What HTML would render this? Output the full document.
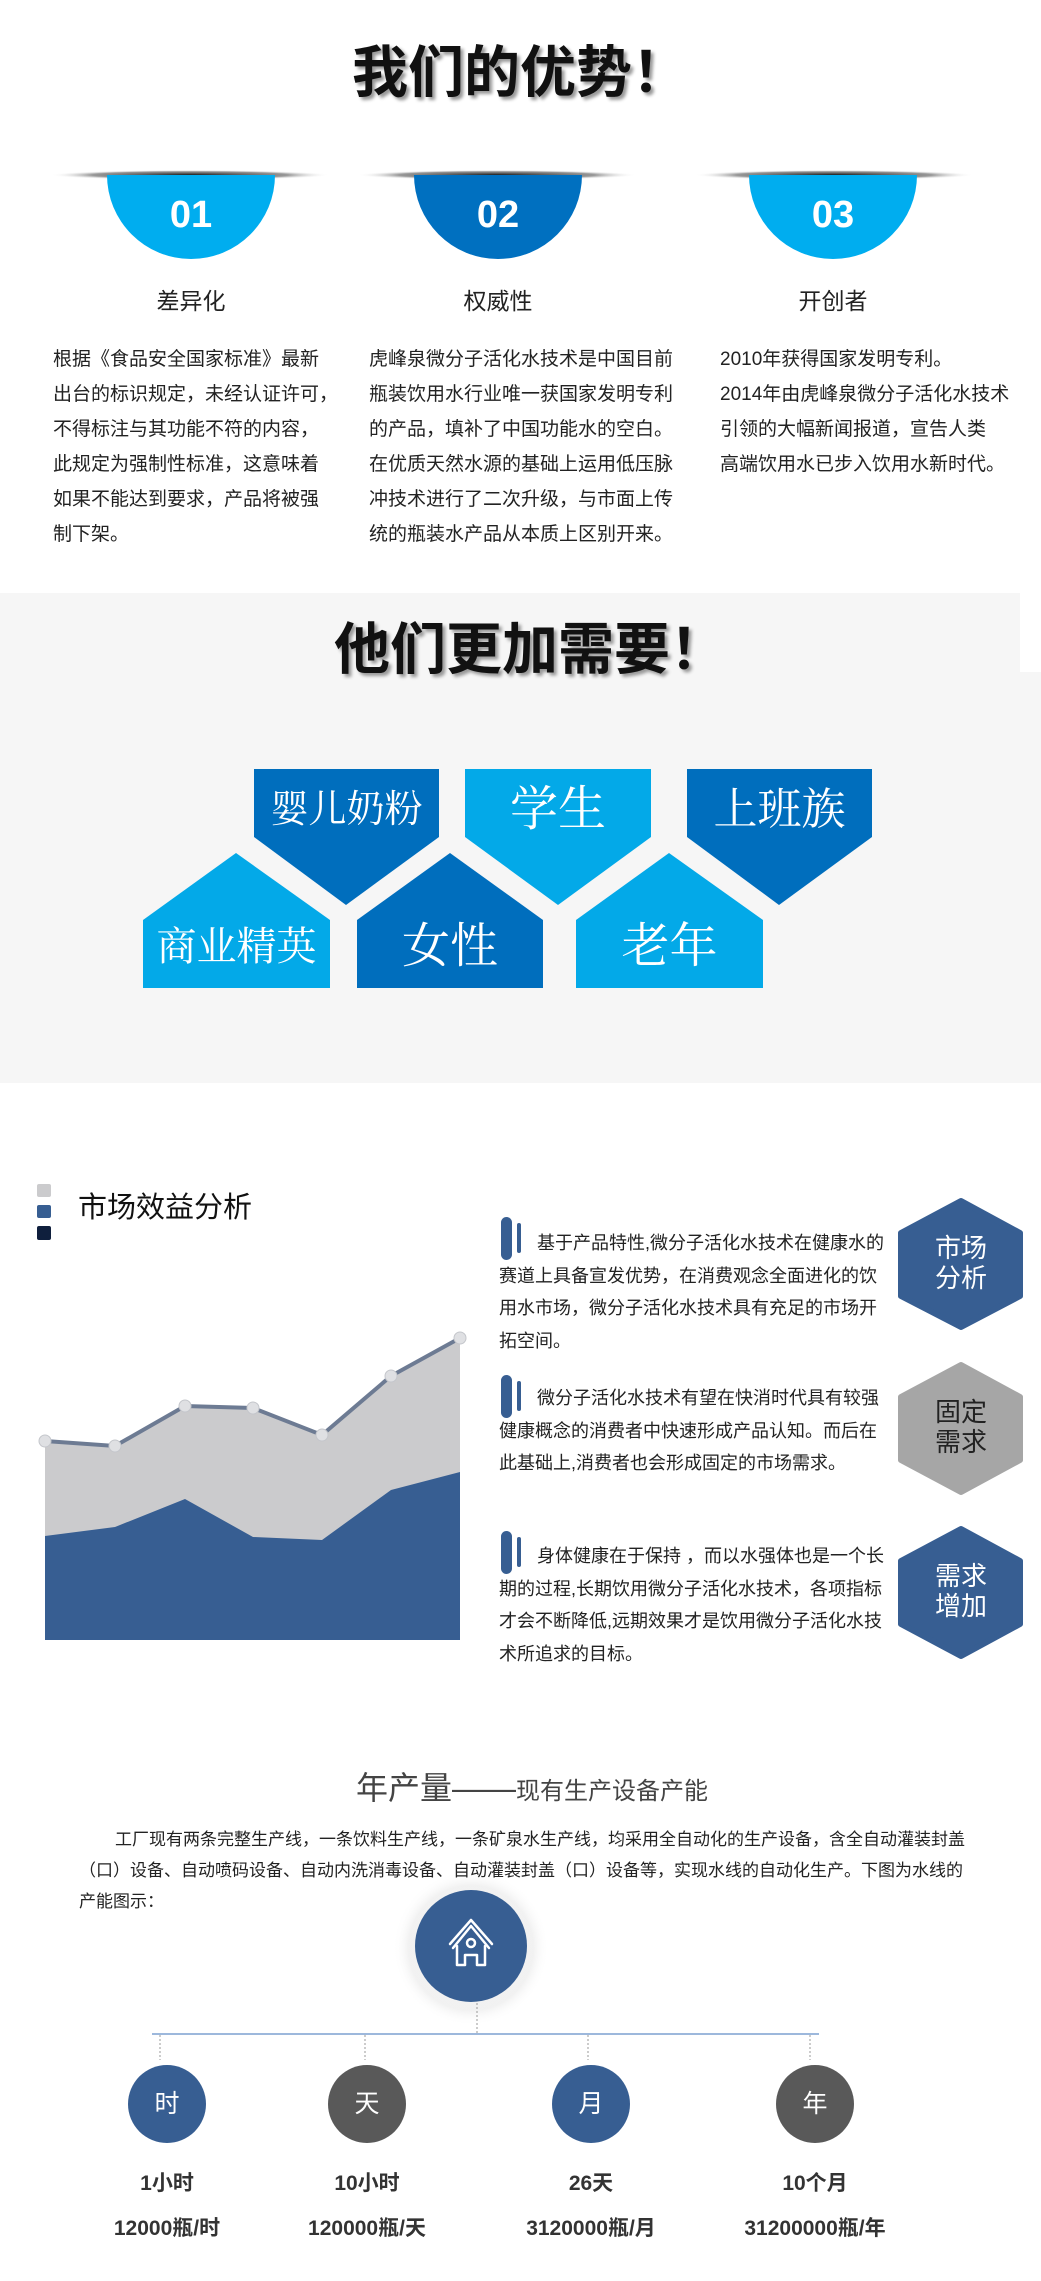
<!DOCTYPE html>
<html><head><meta charset="utf-8">
<style>
*{margin:0;padding:0;box-sizing:border-box}
body{width:1041px;height:2281px;position:relative;background:#fff;overflow:hidden;font-family:"Liberation Sans","Noto Sans CJK SC",sans-serif}
.a{position:absolute;white-space:nowrap}
.c{text-align:center}
.body1{font-size:19px;line-height:35px;color:#222}
.mk{font-size:18px;line-height:32.5px;color:#222}
</style></head><body>
<svg class="a" style="left:0;top:0" width="1041" height="2281" viewBox="0 0 1041 2281">
<defs>
<radialGradient id="sh" cx="0.5" cy="0.5" r="0.5">
<stop offset="0" stop-color="#000" stop-opacity="0.9"/>
<stop offset="0.7" stop-color="#333" stop-opacity="0.5"/>
<stop offset="1" stop-color="#fff" stop-opacity="0"/>
</radialGradient>
<radialGradient id="gl" cx="0.5" cy="0.5" r="0.5">
<stop offset="0.8" stop-color="#eee" stop-opacity="0.8"/>
<stop offset="1" stop-color="#fff" stop-opacity="0"/>
</radialGradient>
</defs>
<!-- section1 shadow bars -->
<ellipse cx="190" cy="175" rx="140" ry="5" fill="url(#sh)"/>
<ellipse cx="497" cy="175" rx="140" ry="5" fill="url(#sh)"/>
<ellipse cx="834" cy="175" rx="140" ry="5" fill="url(#sh)"/>
<path d="M107 175 H275 A84 84 0 0 1 107 175Z" fill="#00adef"/>
<path d="M414 175 H582 A84 84 0 0 1 414 175Z" fill="#0070c0"/>
<path d="M749 175 H917 A84 84 0 0 1 749 175Z" fill="#00adef"/>
<!-- section2 bg -->
<rect x="0" y="593" width="1020" height="490" fill="#f6f6f6"/>
<rect x="0" y="672" width="1041" height="411" fill="#f6f6f6"/>
<polygon points="254,769 439,769 439,837 346,905 254,837" fill="#006ebd"/>
<polygon points="465,769 651,769 651,837 558,905 465,837" fill="#03a9e8"/>
<polygon points="687,769 872,769 872,837 779,905 687,837" fill="#006ebd"/>
<polygon points="143,988 330,988 330,920 236,853 143,920" fill="#03a9e8"/>
<polygon points="357,988 543,988 543,920 450,853 357,920" fill="#006ebd"/>
<polygon points="576,988 763,988 763,920 669,853 576,920" fill="#03a9e8"/>
<!-- section3 legend -->
<rect x="37" y="1184" width="14" height="13" rx="2" fill="#cbcbcd"/>
<rect x="37" y="1205" width="14" height="13" rx="2" fill="#375e92"/>
<rect x="37" y="1226" width="14" height="14" rx="2" fill="#0f1f3d"/>
<!-- chart -->
<polygon points="45,1441 115,1446 185,1406 253,1408 322,1435 391,1376 460,1338 460,1640 45,1640" fill="#cbcbcd"/>
<polygon points="45,1536 115,1527 185,1499 253,1537 322,1540 391,1490 460,1472 460,1640 45,1640" fill="#375e92"/>
<polyline points="45,1441 115,1446 185,1406 253,1408 322,1435 391,1376 460,1338" fill="none" stroke="#6d7b93" stroke-width="4"/>
<g fill="#dfe0e3" stroke="#c4c6cb" stroke-width="1">
<circle cx="45" cy="1441" r="6"/><circle cx="115" cy="1446" r="6"/><circle cx="185" cy="1406" r="6"/><circle cx="253" cy="1408" r="6"/><circle cx="322" cy="1435" r="6"/><circle cx="391" cy="1376" r="6"/><circle cx="460" cy="1338" r="6"/>
</g>
<!-- markers -->
<g fill="#375e92">
<rect x="501" y="1217" width="11" height="43" rx="5.5"/><rect x="517" y="1223" width="4" height="30" rx="2"/>
<rect x="501" y="1375" width="11" height="43" rx="5.5"/><rect x="517" y="1381" width="4" height="30" rx="2"/>
<rect x="501" y="1531" width="11" height="43" rx="5.5"/><rect x="517" y="1537" width="4" height="30" rx="2"/>
</g>
<!-- hexagons -->
<polygon points="961,1201 1020,1233 1020,1296 961,1327 901,1296 901,1233" fill="#375e92" stroke="#375e92" stroke-width="6" stroke-linejoin="round"/>
<polygon points="961,1365 1020,1397 1020,1460 961,1492 901,1460 901,1397" fill="#a6a6a6" stroke="#a6a6a6" stroke-width="6" stroke-linejoin="round"/>
<polygon points="961,1529 1020,1561 1020,1624 961,1656 901,1624 901,1561" fill="#375e92" stroke="#375e92" stroke-width="6" stroke-linejoin="round"/>
<!-- section4 -->
<circle cx="471" cy="1948" r="78" fill="url(#gl)"/>
<circle cx="471" cy="1946" r="56" fill="#375e92"/>
<g fill="none" stroke="#fff" stroke-width="2.5" stroke-linejoin="round" stroke-linecap="round">
<path d="M453 1948 L471 1926 L489 1948"/>
<path d="M450 1944 L471 1920 L492 1944"/>
<path d="M457 1946 V1965 H465 V1955 H477 V1965 H485 V1946"/>
<circle cx="471" cy="1943" r="4"/>
</g>
<line x1="477" y1="2003" x2="477" y2="2034" stroke="#999" stroke-width="1" stroke-dasharray="2,2"/>
<line x1="152" y1="2034" x2="819" y2="2034" stroke="#9db8dc" stroke-width="2"/>
<g stroke="#999" stroke-width="1" stroke-dasharray="2,2">
<line x1="160" y1="2035" x2="160" y2="2060"/><line x1="365" y1="2035" x2="365" y2="2060"/><line x1="588" y1="2035" x2="588" y2="2060"/><line x1="810" y1="2035" x2="810" y2="2060"/>
</g>
<ellipse cx="167" cy="2104" rx="39" ry="39" fill="#375e92"/>
<ellipse cx="367" cy="2104" rx="39" ry="39" fill="#595959"/>
<ellipse cx="591" cy="2104" rx="39" ry="39" fill="#375e92"/>
<ellipse cx="815" cy="2104" rx="39" ry="39" fill="#595959"/>
</svg>

<!-- Section 1 -->
<div class="a c" style="left:320px;top:40px;width:400px;font-size:56px;line-height:66px;font-weight:bold;color:#111;text-shadow:3px 3px 3px #999">我们的优势！</div>
<div class="a c" style="left:107px;top:194px;width:168px;font-size:38px;font-weight:bold;color:#fff">01</div>
<div class="a c" style="left:414px;top:194px;width:168px;font-size:38px;font-weight:bold;color:#fff">02</div>
<div class="a c" style="left:749px;top:194px;width:168px;font-size:38px;font-weight:bold;color:#fff">03</div>
<div class="a c" style="left:107px;top:282px;width:168px;font-size:23px;color:#222">差异化</div>
<div class="a c" style="left:414px;top:282px;width:168px;font-size:23px;color:#222">权威性</div>
<div class="a c" style="left:749px;top:282px;width:168px;font-size:23px;color:#222">开创者</div>
<div class="a body1" style="left:53px;top:342px">根据《食品安全国家标准》最新<br>出台的标识规定，未经认证许可，<br>不得标注与其功能不符的内容，<br>此规定为强制性标准，这意味着<br>如果不能达到要求，产品将被强<br>制下架。</div>
<div class="a body1" style="left:369px;top:342px">虎峰泉微分子活化水技术是中国目前<br>瓶装饮用水行业唯一获国家发明专利<br>的产品，填补了中国功能水的空白。<br>在优质天然水源的基础上运用低压脉<br>冲技术进行了二次升级，与市面上传<br>统的瓶装水产品从本质上区别开来。</div>
<div class="a body1" style="left:720px;top:342px">2010年获得国家发明专利。<br>2014年由虎峰泉微分子活化水技术<br>引领的大幅新闻报道，宣告人类<br>高端饮用水已步入饮用水新时代。</div>

<!-- Section 2 -->
<div class="a c" style="left:300px;top:617px;width:460px;font-size:56px;line-height:66px;font-weight:bold;color:#111;text-shadow:3px 3px 3px #999">他们更加需要！</div>
<div class="a c" style="left:254px;top:785px;width:185px;font-size:38px;line-height:50px;color:#fff;font-family:'Liberation Serif','Noto Serif CJK SC',serif">婴儿奶粉</div>
<div class="a c" style="left:465px;top:780px;width:186px;font-size:48px;line-height:60px;color:#fff;font-family:'Liberation Serif','Noto Serif CJK SC',serif">学生</div>
<div class="a c" style="left:687px;top:780px;width:185px;font-size:44px;line-height:60px;color:#fff;font-family:'Liberation Serif','Noto Serif CJK SC',serif">上班族</div>
<div class="a c" style="left:143px;top:922px;width:187px;font-size:40px;line-height:50px;color:#fff;font-family:'Liberation Serif','Noto Serif CJK SC',serif">商业精英</div>
<div class="a c" style="left:357px;top:917px;width:186px;font-size:48px;line-height:60px;color:#fff;font-family:'Liberation Serif','Noto Serif CJK SC',serif">女性</div>
<div class="a c" style="left:576px;top:917px;width:187px;font-size:48px;line-height:60px;color:#fff;font-family:'Liberation Serif','Noto Serif CJK SC',serif">老年</div>

<!-- Section 3 -->
<div class="a" style="left:78px;top:1190px;font-size:29px;line-height:36px;color:#111">市场效益分析</div>
<div class="a mk" style="left:499px;top:1227px"><span style="padding-left:38px"></span>基于产品特性,微分子活化水技术在健康水的<br>赛道上具备宣发优势，在消费观念全面进化的饮<br>用水市场，微分子活化水技术具有充足的市场开<br>拓空间。</div>
<div class="a mk" style="left:499px;top:1382px"><span style="padding-left:38px"></span>微分子活化水技术有望在快消时代具有较强<br>健康概念的消费者中快速形成产品认知。而后在<br>此基础上,消费者也会形成固定的市场需求。</div>
<div class="a mk" style="left:499px;top:1540px"><span style="padding-left:38px"></span>身体健康在于保持 ，而以水强体也是一个长<br>期的过程,长期饮用微分子活化水技术，各项指标<br>才会不断降低,远期效果才是饮用微分子活化水技<br>术所追求的目标。</div>
<div class="a c" style="left:901px;top:1233px;width:120px;font-size:26px;line-height:30px;color:#fff">市场<br>分析</div>
<div class="a c" style="left:901px;top:1397px;width:120px;font-size:26px;line-height:30px;color:#222">固定<br>需求</div>
<div class="a c" style="left:901px;top:1561px;width:120px;font-size:26px;line-height:30px;color:#fff">需求<br>增加</div>

<!-- Section 4 -->
<div class="a" style="left:356px;top:1768px;color:#444;font-size:24px;line-height:40px"><span style="font-size:32px">年产量——</span>现有生产设备产能</div>
<div class="a" style="left:79px;top:1824px;width:900px;white-space:normal;font-size:17px;line-height:31px;color:#222;text-indent:36px">工厂现有两条完整生产线，一条饮料生产线，一条矿泉水生产线，均采用全自动化的生产设备，含全自动灌装封盖（口）设备、自动喷码设备、自动内洗消毒设备、自动灌装封盖（口）设备等，实现水线的自动化生产。下图为水线的产能图示：</div>
<div class="a c" style="left:128px;top:2087px;width:78px;font-size:25px;line-height:34px;color:#fff">时</div>
<div class="a c" style="left:328px;top:2087px;width:78px;font-size:25px;line-height:34px;color:#fff">天</div>
<div class="a c" style="left:552px;top:2087px;width:78px;font-size:25px;line-height:34px;color:#fff">月</div>
<div class="a c" style="left:776px;top:2087px;width:78px;font-size:25px;line-height:34px;color:#fff">年</div>
<div class="a c" style="left:87px;top:2169px;width:160px;font-size:21px;font-weight:bold;line-height:30px;color:#333">1小时</div>
<div class="a c" style="left:287px;top:2169px;width:160px;font-size:21px;font-weight:bold;line-height:30px;color:#333">10小时</div>
<div class="a c" style="left:511px;top:2169px;width:160px;font-size:21px;font-weight:bold;line-height:30px;color:#333">26天</div>
<div class="a c" style="left:735px;top:2169px;width:160px;font-size:21px;font-weight:bold;line-height:30px;color:#333">10个月</div>
<div class="a c" style="left:67px;top:2214px;width:200px;font-size:21px;font-weight:bold;line-height:30px;color:#333">12000瓶/时</div>
<div class="a c" style="left:267px;top:2214px;width:200px;font-size:21px;font-weight:bold;line-height:30px;color:#333">120000瓶/天</div>
<div class="a c" style="left:491px;top:2214px;width:200px;font-size:21px;font-weight:bold;line-height:30px;color:#333">3120000瓶/月</div>
<div class="a c" style="left:715px;top:2214px;width:200px;font-size:21px;font-weight:bold;line-height:30px;color:#333">31200000瓶/年</div>
</body></html>
